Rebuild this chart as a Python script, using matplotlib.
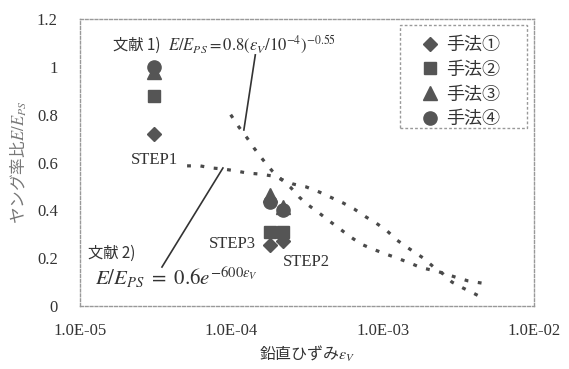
import matplotlib
matplotlib.use("Agg")
import matplotlib.pyplot as plt
from matplotlib.patches import Rectangle

plt.rcParams["font.family"] = ["Liberation Serif", "Noto Sans CJK JP", "DejaVu Sans"]
plt.rcParams["mathtext.fontset"] = "stix"
CJK = ["Noto Sans CJK JP"]

# measured points (STEP1, STEP3, STEP2)
step_x = [3.1e-5, 1.8e-4, 2.2e-4]
method1 = [0.72, 0.255, 0.27]
method2 = [0.88, 0.31, 0.31]
method3 = [0.978, 0.464, 0.414]
method4 = [1.0, 0.435, 0.40]
method_labels = ["手法①", "手法②", "手法③", "手法④"]

# reference 1) curve
ref1_x = [0.99e-4, 1.12e-4, 1.27e-4, 1.41e-4, 1.62e-4, 1.86e-4, 2.16e-4, 2.48e-4,
          2.80e-4, 3.21e-4, 3.80e-4, 4.43e-4, 5.23e-4, 6.0e-4, 7.2e-4, 8.6e-4,
          1.04e-3, 1.24e-3, 1.51e-3, 1.8e-3, 2.3e-3, 3.16e-3, 3.67e-3, 4.5e-3]
ref1_y = [0.80, 0.749, 0.703, 0.661, 0.611, 0.565, 0.527, 0.494,
          0.456, 0.423, 0.389, 0.356, 0.322, 0.293, 0.259, 0.238,
          0.218, 0.201, 0.18, 0.16, 0.145, 0.117, 0.105, 0.096]

# reference 2) curve
ref2_x = [5.1e-5, 6.2e-5, 7.45e-5, 8.8e-5, 1.07e-4, 1.27e-4, 1.52e-4, 1.86e-4,
          2.2e-4, 2.56e-4, 3.12e-4, 3.8e-4, 4.63e-4, 5.47e-4, 6.47e-4, 7.77e-4,
          9.04e-4, 1.07e-3, 1.24e-3, 1.47e-3, 1.85e-3, 2.2e-3, 2.5e-3, 2.87e-3,
          3.4e-3, 3.97e-3, 4.6e-3]
ref2_y = [0.586, 0.586, 0.577, 0.573, 0.565, 0.556, 0.552, 0.544,
          0.527, 0.510, 0.498, 0.477, 0.452, 0.431, 0.406, 0.372,
          0.347, 0.314, 0.276, 0.243, 0.201, 0.16, 0.135, 0.100,
          0.075, 0.054, 0.033]

x_ticks = [1e-5, 1e-4, 1e-3, 1e-2]
x_tick_labels = ["1.0E-05", "1.0E-04", "1.0E-03", "1.0E-02"]
y_ticks = [0, 0.2, 0.4, 0.6, 0.8, 1.0, 1.2]
y_tick_labels = ["0", "0.2", "0.4", "0.6", "0.8", "1", "1.2"]

text_color = "#333333"
mark_color = "#555555"

fig = plt.figure(figsize=(5.69, 3.69), dpi=100)
ax = fig.add_axes([0.1406, 0.1707, 0.7979, 0.7778])

dots = (0, (1.2, 3.0))
ax.plot(ref1_x, ref1_y, color="#4a4a4a", linewidth=2.3, linestyle=dots, zorder=2)
ax.plot(ref2_x, ref2_y, color="#4a4a4a", linewidth=2.3, linestyle=dots, zorder=2)

ax.plot(step_x, method1, linestyle="none", marker="D", markersize=7.5,
        color=mark_color, label=method_labels[0], zorder=3)
ax.plot(step_x, method2, linestyle="none", marker="s", markersize=8.5,
        color=mark_color, label=method_labels[1], zorder=3)
ax.plot(step_x, method3, linestyle="none", marker="^", markersize=9.5,
        color=mark_color, label=method_labels[2], zorder=3)
ax.plot(step_x, method4, linestyle="none", marker="o", markersize=9.5,
        color=mark_color, label=method_labels[3], zorder=3)

# leader lines to the two reference curves
ax.plot([1.44e-4, 1.21e-4], [1.05, 0.736], color=text_color, linewidth=1.2)
ax.plot([3.48e-5, 8.8e-5], [0.163, 0.577], color=text_color, linewidth=1.2)

ax.text(1.65e-5, 1.092, "文献 1)", family=CJK, fontsize=11,
        color=text_color, ha="left", va="center")
ax.text(3.82e-5, 1.092, r"$E/E_{PS}=0.8\left(\varepsilon_V/10^{-4}\right)^{-0.55}$",
        fontsize=12, color=text_color, ha="left", va="center")
ax.text(1.13e-5, 0.222, "文献 2)", family=CJK, fontsize=11,
        color=text_color, ha="left", va="center")
ax.text(1.26e-5, 0.117, r"$E/E_{PS}\ =\ 0.6e^{-600\varepsilon_V}$",
        fontsize=15, color=text_color, ha="left", va="center")
ax.text(4.44e-5, 0.611, "STEP1", fontsize=12, color=text_color, ha="right", va="center")
ax.text(1.46e-4, 0.259, "STEP3", fontsize=12, color=text_color, ha="right", va="center")
ax.text(2.2e-4, 0.184, "STEP2", fontsize=12, color=text_color, ha="left", va="center")

ax.set_xscale("log")
ax.set_xlim(1e-5, 1e-2)
ax.set_ylim(0, 1.2)
ax.set_xticks(x_ticks)
ax.set_xticklabels(x_tick_labels)
ax.set_yticks(y_ticks)
ax.set_yticklabels(y_tick_labels)
ax.minorticks_off()
ax.tick_params(axis="both", length=0, labelsize=12, labelcolor=text_color)
ax.tick_params(axis="x", pad=12)
ax.tick_params(axis="y", pad=16)

for spine in ax.spines.values():
    spine.set_linestyle((0, (2, 1.5)))
    spine.set_color("#999999")
    spine.set_linewidth(1.0)

ax.set_xlabel(r"鉛直ひずみ$\varepsilon_V$", family=CJK, fontsize=11.5,
              color=text_color, labelpad=4)
ax.set_ylabel(r"ヤング率比$E/E_{PS}$", family=CJK, fontsize=12,
              color="#777777", labelpad=6)

# legend box drawn separately, dashed like the scan
ax.add_patch(Rectangle((0.705, 0.620), 0.280, 0.359, transform=ax.transAxes,
                       fill=False, edgecolor="#999999", linewidth=1.0,
                       linestyle=(0, (2, 1.5)), zorder=4))
leg = ax.legend(loc="upper left", bbox_to_anchor=(0.751, 0.941),
                prop={"family": CJK, "size": 13},
                frameon=False, labelspacing=0.37,
                handletextpad=0.4, borderpad=0, handlelength=1.0,
                borderaxespad=0, labelcolor=text_color)

fig.savefig("out.png", dpi=100)
plt.close(fig)
